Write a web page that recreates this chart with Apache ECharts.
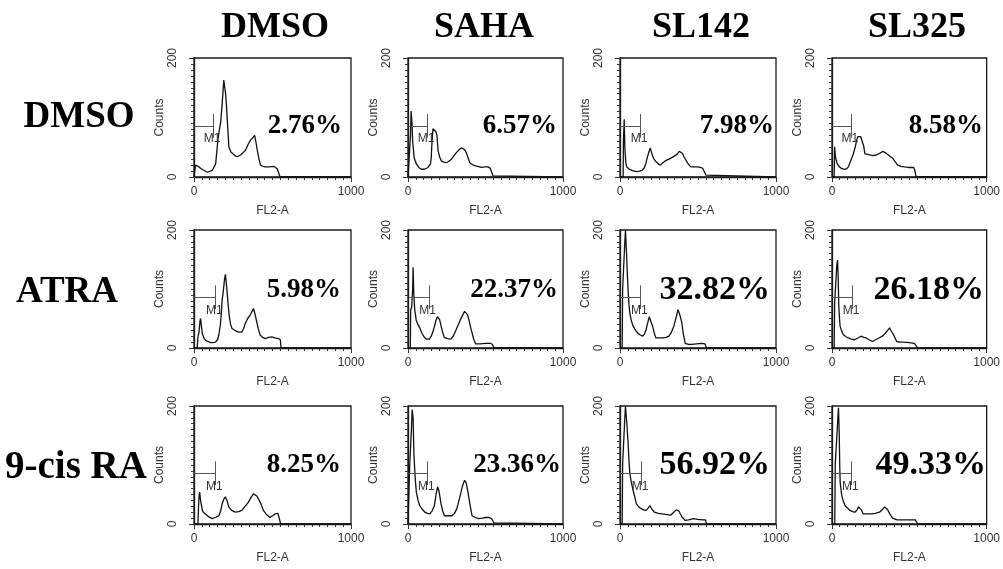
<!DOCTYPE html>
<html>
<head>
<meta charset="utf-8">
<script src="https://cdn.jsdelivr.net/npm/echarts@6/dist/echarts.min.js"></script>
<style>
html, body { margin: 0; background: #fff; }
#chart { width: 1003px; height: 569px; }
</style>
</head>
<body>
<div id="chart"></div>
<script>
// column / row treatments
const colNames = ['DMSO', 'SAHA', 'SL142', 'SL325']
const rowNames = ['DMSO', 'ATRA', '9-cis RA']
const percents = ['2.76%', '6.57%', '7.98%', '8.58%',
                  '5.98%', '22.37%', '32.82%', '26.18%',
                  '8.25%', '23.36%', '56.92%', '49.33%']

// histograms: [FL2-A channel, counts]
const dmsoDmso = [[0,0],[8,0],[10,20],[20,19],[32,17],[50,13],[85,8],[116,11],[138,22],[152,62],[162,80],[170,92],[180,125],[190,163],[196,150],[201,141],[207,120],[212,96],[222,51],[235,42],[244,39],[260,36],[275,34],[297,37],[312,41],[328,45],[345,55],[360,62],[375,66],[386,70],[395,58],[403,45],[414,30],[424,20],[440,18],[455,17],[480,17],[508,18],[520,16],[530,14],[540,12],[547,1],[1000,0]]
const dmsoSaha = [[0,0],[12,0],[16,70],[20,111],[26,90],[30,60],[40,32],[54,22],[70,16],[86,13],[105,13],[129,16],[145,22],[150,33],[155,60],[161,81],[167,78],[172,81],[180,76],[187,70],[194,44],[205,33],[215,27],[230,25],[247,24],[262,26],[280,30],[297,36],[312,41],[330,46],[345,49],[355,50],[365,46],[376,41],[388,32],[398,24],[415,21],[430,19],[450,18],[473,16],[495,17],[516,17],[530,15],[538,13],[548,2],[1000,0]]
const dmsoSl142 = [[0,0],[20,0],[22,60],[27,97],[31,50],[37,25],[43,17],[60,13],[76,11],[92,10],[108,9],[125,10],[140,11],[155,15],[165,22],[173,31],[185,42],[194,49],[203,40],[216,31],[230,26],[245,22],[259,20],[275,24],[290,27],[302,29],[320,31],[335,33],[346,34],[365,38],[380,43],[389,46],[400,40],[410,34],[421,29],[437,22],[454,17],[475,17],[497,17],[515,16],[529,15],[540,13],[551,3],[1000,0]]
const dmsoSl325 = [[0,0],[14,0],[17,51],[22,35],[32,23],[48,17],[64,14],[80,13],[96,14],[108,18],[117,25],[128,32],[138,39],[150,50],[160,62],[167,68],[174,70],[185,68],[196,65],[205,52],[213,39],[230,38],[245,37],[265,36],[287,37],[310,40],[328,43],[340,45],[350,40],[362,37],[378,34],[394,31],[410,25],[426,20],[445,18],[468,17],[495,16],[515,16],[528,16],[535,12],[543,1],[1000,0]]
const atraDmso = [[0,0],[20,0],[26,20],[32,27],[38,45],[42,50],[47,38],[53,24],[63,17],[74,13],[90,11],[105,9],[120,9],[137,10],[150,14],[158,22],[168,39],[174,60],[179,81],[184,90],[189,102],[195,118],[200,125],[205,112],[210,98],[217,75],[225,53],[233,40],[242,33],[260,30],[284,27],[305,27],[316,33],[326,41],[342,50],[358,56],[370,62],[379,67],[390,56],[400,44],[410,32],[421,22],[437,18],[453,16],[475,18],[495,19],[515,17],[537,16],[550,14],[554,0],[1000,0]]
const atraSaha = [[0,0],[15,0],[17,64],[24,70],[30,100],[33,137],[37,95],[43,66],[53,47],[64,40],[74,35],[90,25],[106,18],[120,15],[138,15],[150,20],[160,27],[170,36],[181,47],[190,53],[196,55],[204,48],[213,38],[223,27],[234,18],[255,16],[277,15],[292,20],[309,30],[325,40],[340,49],[355,57],[365,62],[372,64],[383,57],[394,47],[404,35],[415,24],[425,14],[436,7],[468,7],[500,8],[532,8],[545,6],[553,1],[1000,0]]
const atraSl142 = [[0,0],[14,0],[17,101],[25,100],[31,180],[35,200],[40,200],[42,160],[47,125],[52,98],[57,75],[63,59],[73,46],[84,37],[100,30],[115,25],[130,22],[146,20],[157,24],[167,31],[178,43],[188,53],[198,45],[209,37],[220,25],[230,17],[250,17],[272,17],[295,18],[314,20],[330,27],[345,37],[360,52],[372,65],[385,55],[397,42],[405,25],[418,8],[440,6],[460,6],[490,7],[523,8],[545,7],[554,0],[1000,0]]
const atraSl325 = [[0,0],[14,0],[17,76],[25,76],[31,140],[36,149],[40,120],[44,70],[52,37],[62,29],[73,23],[90,19],[105,17],[125,15],[146,14],[168,17],[188,20],[205,18],[220,17],[240,14],[261,11],[282,14],[303,17],[325,20],[345,25],[360,30],[372,34],[385,28],[397,23],[408,17],[418,11],[440,10],[460,10],[500,9],[533,8],[545,7],[554,0],[1000,0]]
const cisDmso = [[0,0],[25,0],[29,30],[33,50],[36,54],[42,40],[53,23],[63,19],[74,17],[95,12],[116,9],[137,11],[158,14],[170,22],[179,34],[190,42],[200,46],[210,40],[221,29],[240,23],[263,20],[285,21],[305,23],[325,30],[347,37],[365,46],[379,51],[390,49],[402,47],[410,46],[425,35],[442,23],[462,16],[484,11],[500,14],[516,17],[535,18],[547,18],[552,0],[1000,0]]
const cisSaha = [[0,0],[9,0],[11,100],[18,100],[22,160],[27,194],[33,180],[38,120],[43,94],[48,72],[54,54],[65,40],[76,31],[92,25],[109,20],[125,18],[141,17],[155,22],[170,31],[180,48],[191,63],[200,56],[213,34],[224,22],[235,14],[260,14],[283,14],[300,18],[315,26],[326,37],[340,52],[352,65],[365,74],[375,70],[387,54],[400,33],[413,14],[435,11],[457,9],[480,10],[500,11],[522,11],[540,9],[554,2],[1000,0]]
const cisSl142 = [[0,0],[14,0],[17,103],[25,103],[31,180],[35,200],[40,200],[44,170],[52,137],[57,110],[63,86],[73,70],[84,57],[95,45],[105,34],[120,29],[136,26],[150,24],[167,23],[180,27],[192,31],[205,25],[220,20],[245,18],[272,17],[300,16],[324,15],[345,20],[360,24],[366,26],[378,22],[387,17],[400,11],[418,6],[440,7],[470,9],[500,8],[533,7],[548,7],[554,0],[1000,0]]
const cisSl325 = [[0,0],[18,0],[21,101],[30,101],[38,180],[42,197],[47,150],[50,100],[53,70],[63,48],[74,38],[85,31],[100,27],[116,23],[132,21],[148,20],[163,24],[172,29],[180,31],[190,24],[201,17],[225,17],[254,17],[280,18],[307,20],[325,24],[340,29],[349,31],[360,24],[372,18],[381,14],[392,10],[402,8],[420,7],[444,7],[490,7],[539,7],[550,5],[554,0],[1000,0]]

const histograms = [dmsoDmso, dmsoSaha, dmsoSl142, dmsoSl325,
                    atraDmso, atraSaha, atraSl142, atraSl325,
                    cisDmso, cisSaha, cisSl142, cisSl325]

// M1 gate end channel per panel, gate level in counts
const gateEnds = [123, 125, 130, 124, 137, 134, 132, 132, 137, 126, 136, 127]
const gateLevel = 86

// layout
const colLeft = [194, 408, 620, 832]
const colWidth = [157, 155, 156, 158]
const rowTop = [58, 230, 406]
const rowHeight = [119, 118, 118]
const pctInset = [9, 6, 2, 7, 10, 5, 6, 6, 10, 2, 6, 4]
const pctSize = [27, 27, 27, 27, 27, 27, 34, 34, 27, 27, 34, 34]
const pctMid = [68, 60, 59]
const headerX = [275, 484, 701, 917]
const rowLabelX = [79, 67, 76]
const rowLabelY = [117, 292, 468]
const rowLabelSize = [37, 37, 39]

const sans = '"Liberation Sans", Arial, sans-serif'
const serif = '"Liberation Serif", "Times New Roman", serif'

const chart = echarts.init(document.getElementById('chart'))
const grids = [], xAxes = [], yAxes = [], series = [], graphics = []

histograms.forEach((hist, i) => {
  const r = Math.floor(i / 4), c = i % 4
  grids.push({
    left: colLeft[c], top: rowTop[r], width: colWidth[c], height: rowHeight[r],
    show: true, borderColor: '#1a1a1a', borderWidth: 1.3, backgroundColor: '#fff'
  })
  xAxes.push({
    gridIndex: i, type: 'value', min: 0, max: 1000, interval: 1000,
    name: 'FL2-A', nameLocation: 'middle', nameGap: 28,
    nameTextStyle: { fontFamily: sans, fontSize: 12, color: '#333' },
    axisLine: { lineStyle: { color: '#1a1a1a', width: 1.3 } },
    axisTick: { length: 5, lineStyle: { color: '#333' } },
    minorTick: { show: true, splitNumber: 20, length: 3, lineStyle: { color: '#333' } },
    splitLine: { show: false },
    axisLabel: { fontFamily: sans, fontSize: 12, color: '#333', margin: 9,
                 formatter: v => String(v) }
  })
  yAxes.push({
    gridIndex: i, type: 'value', min: 0, max: 200, interval: 200,
    name: 'Counts', nameLocation: 'middle', nameGap: 27, nameRotate: 90,
    nameTextStyle: { fontFamily: sans, fontSize: 12, color: '#333' },
    axisLine: { show: true, lineStyle: { color: '#1a1a1a', width: 1.3 } },
    axisTick: { length: 5, lineStyle: { color: '#333' } },
    minorTick: { show: true, splitNumber: 20, length: 3, lineStyle: { color: '#333' } },
    splitLine: { show: false },
    axisLabel: { fontFamily: sans, fontSize: 12, color: '#333', rotate: 90,
                 align: 'center', verticalAlign: 'bottom', margin: 15 }
  })
  const g = gateEnds[i]
  series.push({
    type: 'line', xAxisIndex: i, yAxisIndex: i, data: hist,
    showSymbol: false, smooth: false,
    lineStyle: { color: '#111', width: 1.3 },
    markLine: {
      silent: true, symbol: 'none', animation: false,
      label: { show: false },
      lineStyle: { color: '#555', width: 1, type: 'solid' },
      data: [
        [{ coord: [2, gateLevel] }, { coord: [g, gateLevel] }],
        [{ coord: [g, gateLevel - 20] }, { coord: [g, gateLevel + 20] }]
      ]
    },
    markPoint: {
      silent: true, symbol: 'circle', symbolSize: 1, animation: false,
      itemStyle: { color: 'rgba(0,0,0,0)' },
      label: { show: true, position: 'inside', formatter: 'M1',
               fontFamily: sans, fontSize: 12, color: '#333' },
      data: [{ coord: [g - 8, gateLevel - 22] }]
    }
  })
  graphics.push({
    type: 'text',
    x: colLeft[c] + colWidth[c] - pctInset[i],
    y: rowTop[r] + pctMid[r],
    style: { text: percents[i], fontFamily: serif, fontWeight: 'bold',
             fontSize: pctSize[i], fill: '#000', align: 'right', verticalAlign: 'middle' }
  })
})

colNames.forEach((name, c) => {
  graphics.push({
    type: 'text', x: headerX[c], y: 28,
    style: { text: name, fontFamily: serif, fontWeight: 'bold', fontSize: 36,
             fill: '#000', align: 'center', verticalAlign: 'middle' }
  })
})
rowNames.forEach((name, r) => {
  graphics.push({
    type: 'text', x: rowLabelX[r], y: rowLabelY[r],
    style: { text: name, fontFamily: serif, fontWeight: 'bold', fontSize: rowLabelSize[r],
             fill: '#000', align: 'center', verticalAlign: 'middle' }
  })
})

chart.setOption({
  animation: false,
  backgroundColor: '#fff',
  grid: grids,
  xAxis: xAxes,
  yAxis: yAxes,
  series: series,
  graphic: graphics
})
</script>
</body>
</html>
